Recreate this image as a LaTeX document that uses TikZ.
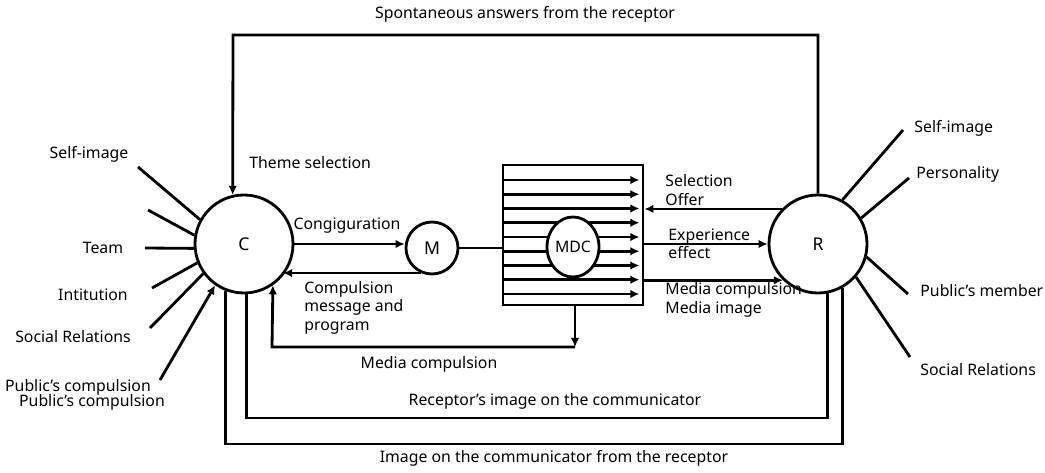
\documentclass[tikz,border=0pt]{standalone}
\usepackage{fontspec}
\setmainfont{Noto Sans}
\usetikzlibrary{arrows.meta,shapes.geometric}

\begin{document}
\begin{tikzpicture}[x=0.2mm, y=-0.2mm, line width=1.6pt,
	>={Latex[length=1.8mm,width=1.7mm]},
	every node/.style={font=\fontsize{9}{10.5}\selectfont},
	actor/.style={circle, draw, minimum size=19.6mm, inner sep=0pt, font=\fontsize{10}{12}\selectfont},
	txt/.style={align=left, anchor=west, inner sep=0pt}]
	
	\useasboundingbox (0,0) rectangle (1045,473);
	
	% Kommunikator, Medium, Rezipient
	\node[actor] (C) at (244,244) {C};
	\node[actor, minimum size=10.4mm] (M) at (432,248) {M};
	\node[actor] (R) at (818,244) {R};
	
	% MDC Kasten
	\node[draw, minimum width=28mm, minimum height=28mm] (box) at (573,235) {};
	\coordinate (bx) at ([xshift=-1mm]box.east);
	\foreach \i in {0,...,8}
		\draw[->] (box.west |- 0,{180+14.25*\i}) -- (bx |- 0,{180+14.25*\i});
	\node[ellipse, draw, fill=white, minimum width=10.4mm, minimum height=12mm, inner sep=0pt] (mdc) at (573,247) {MDC};
	
	% C -- M -- Kasten
	\draw[->] (C.east) -- (C.east -| M.west);
	\draw[->] (M.246) -- (M.246 -| C.-39);
	\draw (M.east) -- (box.west |- M.east);
	\node (conf) at (347,226) {Congiguration};
	\node[txt, anchor=north west] (comp) at (303,280) {Compulsion\\message and\\program};
	
	% Kasten -- R
	\draw[->] (R.136) -- (box.east |- R.136);
	\draw[->] (box.east |- R.west) -- (R.west);
	\draw[->] (box.east |- R.226) -- (R.226);
	\node[txt] (sel) at (664,190) {Selection\\Offer};
	\node[txt] (exp) at (667,244) {Experience\\effect};
	\node[txt] (med) at (664,300) {Media compulsion\\Media image};
	
	% Media compulsion zurueck
	\coordinate (mb) at (575,347);
	\coordinate (ml) at (272,347);
	\draw[->] (box.south -| mb) -- (mb);
	\draw[->] (mb) -- (ml) -- (C.-55);
	\node (mc) at (429,364) {Media compulsion};
	
	% spontane Antworten
	\coordinate (tr) at (818,35);
	\coordinate (tl) at (233,35);
	\draw[->] (R.north) -- (tr) -- (tl) -- (C.103);
	\node (sp) at (525,14) {Spontaneous answers from the receptor};
	\node[txt] (theme) at (248,163) {Theme selection};
	
	% Bilder unten
	\draw (C.-87) -- (C.-87 |- 0,418) -| (R.-79);
	\draw (C.248) -- (C.248 |- 0,444) -| (R.-61);
	\node (rimg) at (555,401) {Receptor’s image on the communicator};
	\node (cimg) at (554,458) {Image on the communicator from the receptor};
	
	% Einfluesse auf C
	\foreach \a/\p in {151/{138,167}, 170/{148,210}, 185/{145,248}, 202/{152,288}, 216/{150,328}}
		\draw (C.\a) -- (\p);
	\draw[->] (160,380) -- (C.235);
	\node (lsi) at (89,154) {Self-image};
	\node (lteam) at (103,248) {Team};
	\node (linst) at (93,295) {Intitution};
	\node (lsoc) at (73,337) {Social Relations};
	\node (lpc) at (78,387) {Public’s compulsion};
	\node (lpcb) at (92,402) {Public’s compulsion};
	
	% Einfluesse auf R
	\foreach \a/\p in {61/{903,130}, 31/{909,178}, -15/{908,294}, -41/{910,357}}
		\draw (R.\a) -- (\p);
	\node[txt] (rsi) at (913,128) {Self-image};
	\node[txt] (rpers) at (915,174) {Personality};
	\node[txt] (rpub) at (919,291) {Public’s member};
	\node[txt] (rsoc) at (919,370) {Social Relations};
	
\end{tikzpicture}
\end{document}
